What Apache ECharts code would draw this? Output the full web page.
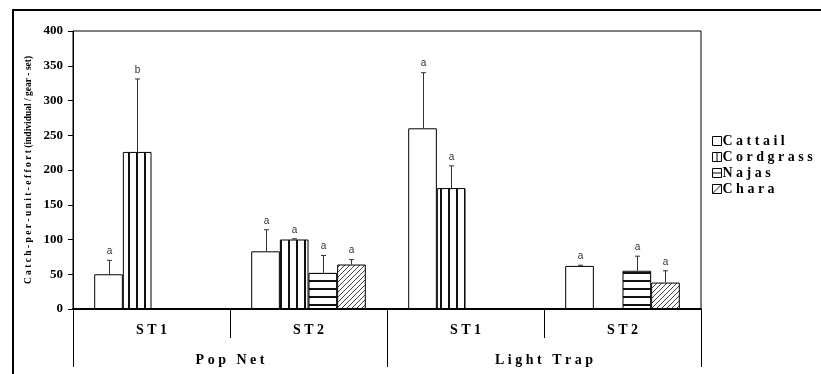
<!DOCTYPE html>
<html><head><meta charset="utf-8">
<script src="https://cdn.jsdelivr.net/npm/echarts@6/dist/echarts.min.js"></script>
<style>html,body{margin:0;padding:0;background:#fff}#c{width:821px;height:374px}</style>
</head><body><div id="c"></div>
<script>
// ---- data ----
const categories = ['ST1', 'ST2', 'ST1', 'ST2'];
const groups = ['Pop Net', 'Light Trap'];
const seriesNames = ['Cattail', 'Cordgrass', 'Najas', 'Chara'];
const cattail   = [50, 83, 260, 62];
const cordgrass = [226, 100, 174, null];
const najas     = [null, 52, null, 55];
const chara     = [null, 64, null, 38];
// upper end of the error bars
const cattailErr   = [70, 114, 340, 63];
const cordgrassErr = [331, 101, 206, null];
const najasErr     = [null, 77, null, 76];
const charaErr     = [null, 71, null, 55];
// significance letters
const cattailSig   = ['a', 'a', 'a', 'a'];
const cordgrassSig = ['b', 'a', 'a', null];
const najasSig     = [null, 'a', null, 'a'];
const charaSig     = [null, 'a', null, 'a'];
const yTitleSpaced = 'Catch-per-unit-effort';
const yTitleRest = '(individual / gear - set)';

const values = [cattail, cordgrass, najas, chara];
const errs = [cattailErr, cordgrassErr, najasErr, charaErr];
const sigs = [cattailSig, cordgrassSig, najasSig, charaSig];

const spaced = s => s.split('').join(' ');
const SERIF = "'Liberation Serif','Times New Roman',serif";
const SANS = "'Liberation Sans',Arial,sans-serif";

function pattern(kind) {
  const c = document.createElement('canvas');
  const ctx = c.getContext('2d');
  if (kind === 'v') {
    c.width = 8; c.height = 8;
    ctx.fillStyle = '#fff'; ctx.fillRect(0, 0, 8, 8);
    ctx.fillStyle = '#111'; ctx.fillRect(0, 0, 2, 8);
  } else if (kind === 'h') {
    c.width = 8; c.height = 8;
    ctx.fillStyle = '#fff'; ctx.fillRect(0, 0, 8, 8);
    ctx.fillStyle = '#111'; ctx.fillRect(0, 0, 8, 2);
  } else {
    c.width = 5; c.height = 5;
    ctx.fillStyle = '#fff'; ctx.fillRect(0, 0, 5, 5);
    ctx.strokeStyle = '#444'; ctx.lineWidth = 1;
    ctx.beginPath();
    ctx.moveTo(0, 5); ctx.lineTo(5, 0);
    ctx.moveTo(-1, 1); ctx.lineTo(1, -1);
    ctx.moveTo(4, 6); ctx.lineTo(6, 4);
    ctx.stroke();
  }
  return { image: c, repeat: 'repeat' };
}
function iconPattern(kind) {
  const c = document.createElement('canvas');
  c.width = 9; c.height = 9;
  const ctx = c.getContext('2d');
  ctx.fillStyle = '#fff'; ctx.fillRect(0, 0, 9, 9);
  ctx.strokeStyle = '#000'; ctx.lineWidth = 1;
  ctx.beginPath();
  if (kind === 'v') { ctx.moveTo(4.5, 0); ctx.lineTo(4.5, 9); }
  else if (kind === 'h') { ctx.moveTo(0, 4.5); ctx.lineTo(9, 4.5); }
  else if (kind === 'd') { ctx.moveTo(0, 9); ctx.lineTo(9, 0); }
  ctx.stroke();
  return { image: c, repeat: 'no-repeat' };
}
const fills = ['#ffffff', pattern('v'), pattern('h'), pattern('d')];
const iconFills = ['#ffffff', iconPattern('v'), iconPattern('h'), iconPattern('d')];

const GAP = 0.27;
const barSeries = seriesNames.map((n, i) => ({
  name: n, type: 'bar', data: values[i],
  barGap: '0%', barCategoryGap: (GAP * 100) + '%',
  itemStyle: { color: fills[i], borderColor: '#000', borderWidth: 1 },
  emphasis: { disabled: true }, silent: true, z: 2
}));

const errData = [];
for (let s = 0; s < 4; s++) {
  for (let c = 0; c < categories.length; c++) {
    if (values[s][c] != null) errData.push([c, s, values[s][c], errs[s][c], sigs[s][c]]);
  }
}

const errSeries = {
  type: 'custom', silent: true, z: 5,
  encode: { x: 0, y: 3 },
  data: errData,
  renderItem: function (params, api) {
    const c = api.value(0), s = api.value(1), v = api.value(2), e = api.value(3);
    const letter = errData[params.dataIndex][4];
    const center = api.coord([c, v]);
    const catW = api.size([1, 0])[0];
    const bw = catW * (1 - GAP) / 4;
    const x = Math.round(center[0] + (s - 1.5) * bw) + 0.5;
    const y0 = api.coord([c, v])[1];
    const y1 = api.coord([c, e])[1];
    const ch = [];
    ch.push({ type: 'line', shape: { x1: x, y1: y0, x2: x, y2: y1 }, style: { stroke: '#333', lineWidth: 1 } });
    ch.push({ type: 'line', shape: { x1: x - 2.5, y1: y1, x2: x + 2.5, y2: y1 }, style: { stroke: '#333', lineWidth: 1 } });
    if (letter) ch.push({ type: 'text', x: x, y: y1 - 4, style: { text: letter, fill: '#333', font: '10px ' + SANS, align: 'center', verticalAlign: 'bottom' } });
    return { type: 'group', children: ch };
  }
};

const chart = echarts.init(document.getElementById('c'), null, { renderer: 'canvas' });
chart.setOption({
  animation: false,
  backgroundColor: '#fff',
  grid: { left: 73, right: 120, top: 31, bottom: 65, show: true, borderColor: '#000', borderWidth: 1, backgroundColor: 'transparent' },
  legend: {
    orient: 'vertical', left: 712, top: 134, padding: 0,
    data: seriesNames.map((n, i) => ({ name: n, itemStyle: { color: iconFills[i], borderColor: '#000', borderWidth: 1 } })),
    icon: 'rect', itemWidth: 9, itemHeight: 9, itemGap: 2,
    textStyle: { fontFamily: SERIF, fontWeight: 'bold', fontSize: 14, color: '#000', padding: [0, 0, 0, -4] },
    formatter: n => spaced(n),
    selectedMode: false
  },
  xAxis: [
    {
      type: 'category', data: categories, position: 'bottom',
      axisLine: { show: true, lineStyle: { color: '#000', width: 2 } },
      axisTick: { show: true, interval: 0, length: 29, lineStyle: { color: '#000', width: 1 } },
      axisLabel: { interval: 0, margin: 14, fontFamily: SERIF, fontWeight: 'bold', fontSize: 14, color: '#000', formatter: v => spaced(v) },
      splitLine: { show: false }
    },
    {
      type: 'category', data: groups, position: 'bottom', gridIndex: 0,
      axisLine: { show: false },
      axisTick: { show: true, interval: 0, length: 58, lineStyle: { color: '#000', width: 1 } },
      axisLabel: { interval: 0, margin: 44, fontFamily: SERIF, fontWeight: 'bold', fontSize: 14, color: '#000', formatter: v => v.split(' ').map(spaced).join('   ') },
      splitLine: { show: false }
    }
  ],
  yAxis: {
    type: 'value', min: 0, max: 400, interval: 50,
    axisLine: { show: true, lineStyle: { color: '#000', width: 1 } },
    axisTick: { show: true, length: 5, lineStyle: { color: '#000' } },
    axisLabel: { margin: 10, fontFamily: SERIF, fontWeight: 'bold', fontSize: 13, color: '#000' },
    splitLine: { show: false }
  },
  graphic: [
    { type: 'line', shape: { x1: 12, y1: 10, x2: 821, y2: 10 }, style: { stroke: '#000', lineWidth: 2 }, silent: true },
    { type: 'line', shape: { x1: 13, y1: 9, x2: 13, y2: 374 }, style: { stroke: '#000', lineWidth: 2 }, silent: true },
    { type: 'text', x: 29, y: 170, rotation: Math.PI / 2, silent: true,
      style: { text: spaced(yTitleSpaced) + ' ' + yTitleRest, font: 'bold 9.5px ' + SERIF, fill: '#000', align: 'center', verticalAlign: 'middle' } }
  ],
  series: barSeries.concat([errSeries])
});
</script>
</body></html>
